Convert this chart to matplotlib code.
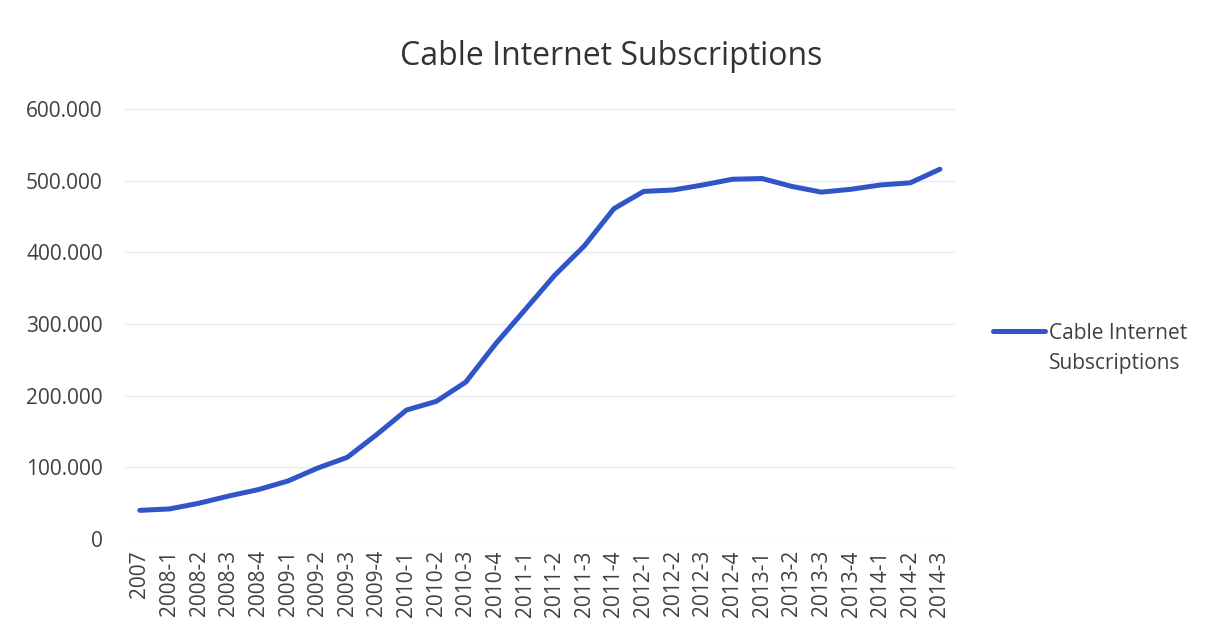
"""Cable internet subscriptions by quarter, 2007 to 2014-3."""

import matplotlib.pyplot as plt
from matplotlib.ticker import FuncFormatter

periods = ["2007"] + [f"{y}-{q}" for y in range(2008, 2014) for q in range(1, 5)] + ["2014-1", "2014-2", "2014-3"]
subscriptions = [
    40000, 42000, 50000, 60000, 69000, 81000, 99000, 114000,
    146000, 180000, 192000, 219000, 272000, 320000, 368000, 409000,
    461000, 485000, 487000, 494000, 502000, 503000, 492000, 484000,
    488000, 494000, 497000, 516000,
]
series_name = ["Cable Internet", "Subscriptions"]

plt.rcParams["font.family"] = ["Open Sans", "DejaVu Sans"]
text_color = "#404040"

fig = plt.figure(figsize=(12.07, 6.37), dpi=100)
ax = fig.add_axes([0.1036, 0.1538, 0.6874, 0.6751])

x = range(len(periods))
ax.plot(x, subscriptions, color="#2f55c8", linewidth=3.6, solid_capstyle="round",
        label=series_name[0])

ax.set_xlim(-0.5, len(periods) - 0.5)
ax.set_ylim(0, 600000)
ax.set_yticks(range(0, 600001, 100000))
ax.yaxis.set_major_formatter(
    FuncFormatter(lambda v, _: "0" if v == 0 else f"{int(v):,}".replace(",", "."))
)
ax.set_xticks(list(x))
ax.set_xticklabels(periods, rotation=90)

ax.grid(True, axis="y", color="#e6e9f0", linewidth=0.9)
ax.set_axisbelow(True)
for spine in ax.spines.values():
    spine.set_visible(False)
ax.tick_params(axis="both", length=0, labelsize=15, colors=text_color)
ax.tick_params(axis="y", pad=16)
ax.tick_params(axis="x", pad=8)

fig.text(0.506, 0.912, "Cable Internet Subscriptions", ha="center", va="center",
         fontsize=23, color="#333333")

# legend: handle sits on the first line, the label wraps below it
leg = ax.legend(loc="center left", bbox_to_anchor=(0.8227, 0.4772),
                bbox_transform=fig.transFigure, frameon=False, fontsize=15,
                handlelength=2.5, handletextpad=0.2, borderpad=0, borderaxespad=0,
                labelcolor=text_color)
fig.canvas.draw()
first = leg.get_texts()[0].get_window_extent()
W, H = fig.canvas.get_width_height()
fig.text(first.x0 / W, (first.y0 - 25) / H, series_name[1], ha="left", va="baseline",
         fontsize=15, color=text_color)

fig.savefig("out.png", dpi=100, facecolor="white")
